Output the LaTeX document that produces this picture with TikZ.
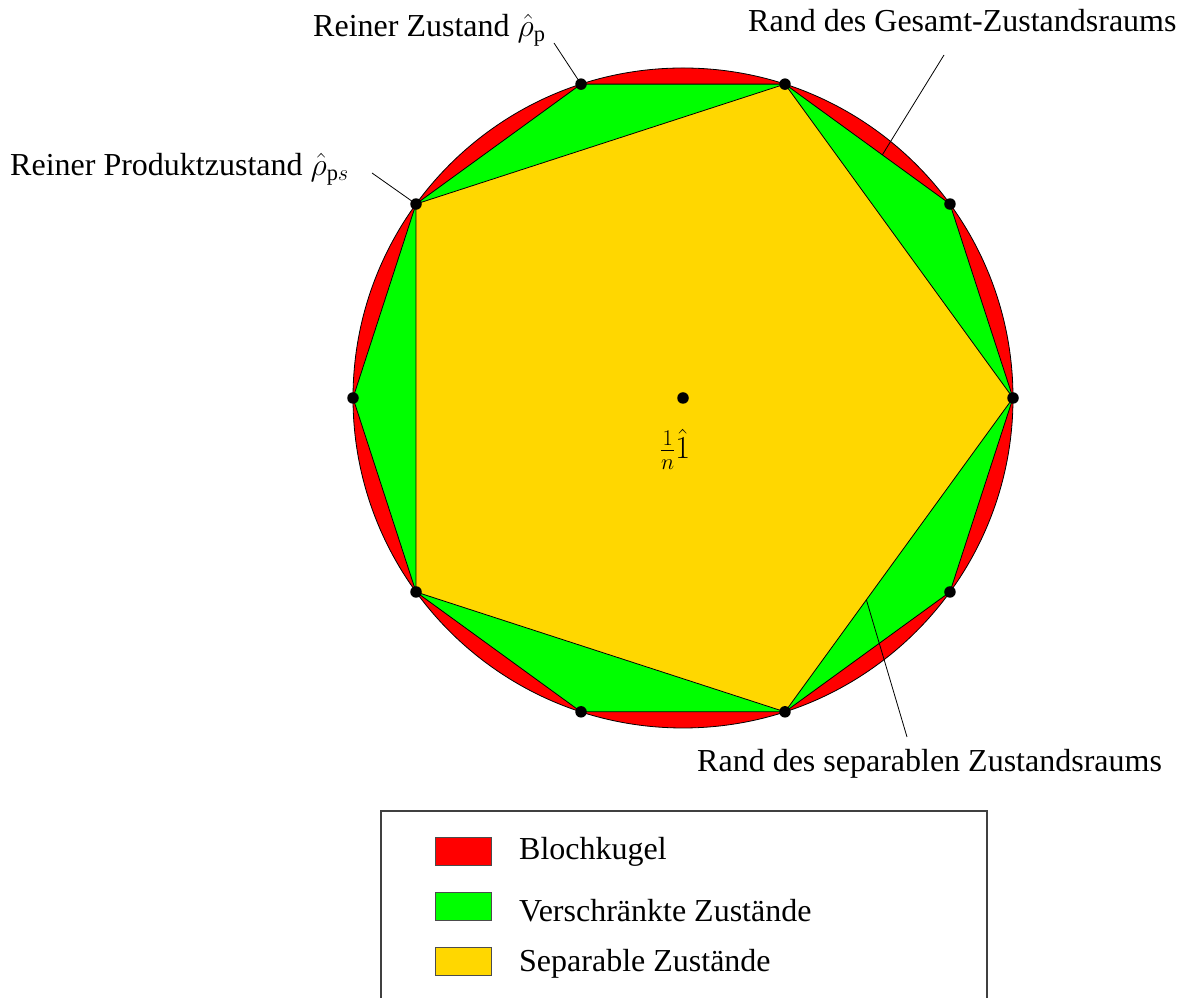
\RequirePackage{fix-cm}
\documentclass[tikz,border=0pt]{standalone}
\usepackage{fontspec}
\setmainfont{Liberation Serif}
\usetikzlibrary{calc}
\definecolor{bred}{RGB}{255,0,0}
\definecolor{bgreen}{RGB}{0,255,0}
\definecolor{bgold}{RGB}{255,215,0}
\begin{document}
\begin{tikzpicture}[x=1pt,y=1pt, font=\fontsize{32}{38}\selectfont,
  dot/.style={circle,fill=black,inner sep=0pt,minimum size=11.5pt},
  edge/.style={draw=black,line width=0.8pt},
  pointer/.style={draw=black,line width=0.8pt},
  swatch/.style={draw=black!70,line width=1pt,minimum width=56pt,minimum height=28pt,inner sep=0pt},
  lbl/.style={anchor=base west,inner sep=0pt}]
\clip (0,0) rectangle (1179,998);
\coordinate (C) at (683,600);
\foreach \i in {0,...,9} { \coordinate (P\i) at ($(C)+(36*\i:330pt)$); }
\filldraw[fill=bred,edge] (C) circle (330pt);
\filldraw[fill=bgreen,edge] (P0)--(P1)--(P2)--(P3)--(P4)--(P5)--(P6)--(P7)--(P8)--(P9)--cycle;
\filldraw[fill=bgold,edge] (P0)--(P2)--(P4)--(P6)--(P8)--cycle;
\foreach \i in {0,...,9} { \node[dot] (D\i) at (P\i) {}; }
\node[dot] (DC) at (C) {};
\node[inner sep=0pt] (one) at (675,549) {$\frac{1}{n}\hat{1}$};
% labels
\node[lbl] (lrp) at (313,961) {Reiner Zustand $\hat{\rho}_{\mathrm{p}}$};
\node[lbl] (lrps) at (10,822) {Reiner Produktzustand $\hat{\rho}_{\mathrm{p}s}$};
\node[lbl] (lges) at (748,966) {Rand des Gesamt-Zustandsraums};
\node[lbl] (lsep) at (697,226) {Rand des separablen Zustandsraums};
\coordinate (a1) at (554,955);
\coordinate (a2) at (372,825);
\coordinate (a3) at (944,943);
\coordinate (a4) at (907,261);
\coordinate (e3) at ($(P2)!0.59!(P1)$);
\coordinate (e4) at ($(P0)!0.643!(P8)$);
\draw[pointer] (a1) -- (D3.center);
\draw[pointer] (a2) -- (D4.center);
\draw[pointer] (a3) -- (e3);
\draw[pointer] (a4) -- (e4);
% legend
\draw[draw=black!75,line width=1.2pt] (381,-20) rectangle (987,187);
\node[swatch,fill=bred] (s1) at (463,146) {};
\node[swatch,fill=bgreen] (s2) at (463,91) {};
\node[swatch,fill=bgold] (s3) at (463,36) {};
\node[lbl] (t1) at (519,138) {Blochkugel};
\node[lbl] (t2) at (519,76) {Verschränkte Zustände};
\node[lbl] (t3) at (519,26) {Separable Zustände};
\end{tikzpicture}
\end{document}
